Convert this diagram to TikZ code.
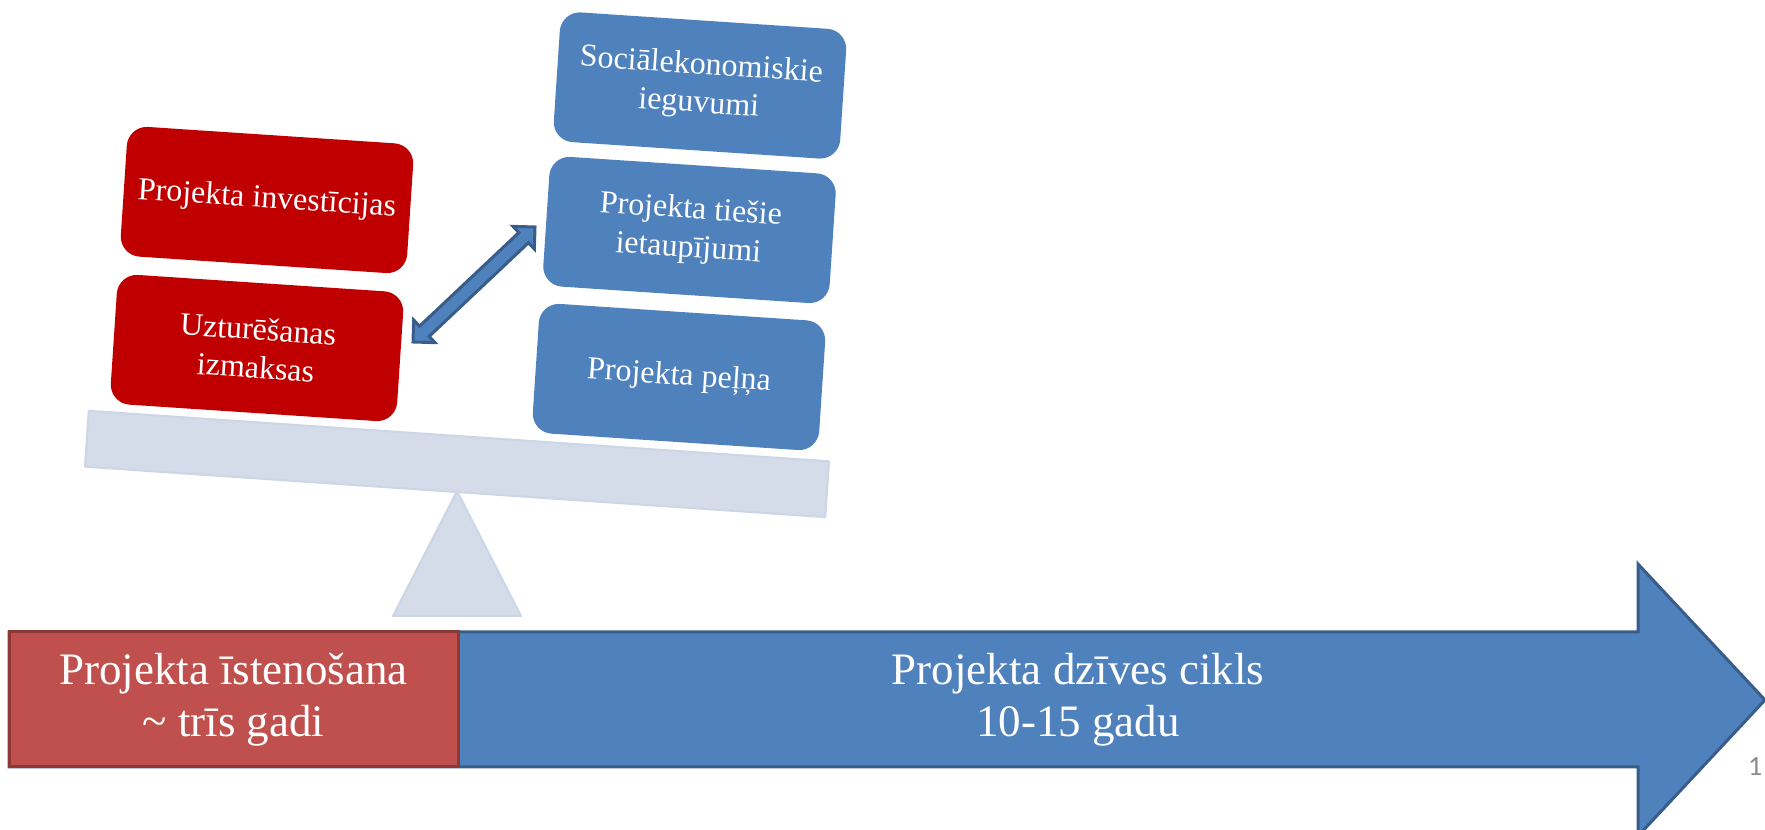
\documentclass[tikz,border=0pt]{standalone}
\usepackage{fontspec}
\setmainfont{Liberation Serif}
\newfontfamily\pagenumfont{Carlito}
\usetikzlibrary{calc}
\definecolor{boxred}{HTML}{C00000}
\definecolor{phasered}{HTML}{C0504D}
\definecolor{phasereddark}{HTML}{8C3836}
\definecolor{accblue}{HTML}{4F81BD}
\definecolor{accbluedark}{HTML}{385D8A}
\definecolor{scalefill}{HTML}{D4DCEA}
\definecolor{scaleline}{HTML}{CDD6E6}
\begin{document}
\begin{tikzpicture}[x=1pt,y=1pt,
  cardbox/.style={rounded corners=20pt, minimum width=287pt, minimum height=130pt,
    rotate=-3.8, text=white, align=center, inner sep=0pt,
    font=\fontsize{32}{38.5}\selectfont},
  redcard/.style={cardbox, fill=boxred},
  bluecard/.style={cardbox, fill=accblue},
  scalepart/.style={fill=scalefill, draw=scaleline, line width=2pt, line join=round},
  dblarrow/.style={fill=accblue, draw=accbluedark, line width=3pt, line join=miter},
  lifearrow/.style={fill=accblue, draw=accbluedark, line width=3pt, line join=miter},
  phasebox/.style={fill=phasered, draw=phasereddark, line width=3pt, minimum width=449pt,
    minimum height=135pt, inner sep=0pt},
  bigtext/.style={text=white, align=center, font=\fontsize{45}{52}\selectfont}
]
\useasboundingbox (0,0) rectangle (1765,830);
\clip (0,0) rectangle (1765,830);

% scale (seesaw)
\node[scalepart, minimum width=742pt, minimum height=56pt, rotate=-3.9, inner sep=0pt] (beam) at (457,366) {};
\draw[scalepart] (457,339) -- (521,214) -- (393,214) -- cycle;

% cards
\node[redcard] (inv) at (267,630) {Projekta investīcijas};
\node[redcard] (uzt) at (257,482) {Uzturēšanas\\izmaksas};
\node[bluecard] (soc) at (700,744.5) {Sociālekonomiskie\\ieguvumi};
\node[bluecard] (tie) at (689.5,600) {Projekta tiešie\\ietaupījumi};
\node[bluecard] (pel) at (679,453) {Projekta peļņa};

% double arrow between uzt and tie
\coordinate (L) at (413,488);
\coordinate (U) at (535,603);
\draw[dblarrow] (L)
  -- ($(L)!15.6pt!(U)!15.6pt!90:(U)$)
  -- ($(L)!15.6pt!(U)!7pt!90:(U)$)
  -- ($(U)!15.6pt!(L)!7pt!-90:(L)$)
  -- ($(U)!15.6pt!(L)!15.6pt!-90:(L)$)
  -- (U)
  -- ($(U)!15.6pt!(L)!15.6pt!90:(L)$)
  -- ($(U)!15.6pt!(L)!7pt!90:(L)$)
  -- ($(L)!15.6pt!(U)!7pt!-90:(U)$)
  -- ($(L)!15.6pt!(U)!15.6pt!-90:(U)$)
  -- cycle;

% life cycle arrow
\draw[lifearrow] (9,63) -- (9,198) -- (1638,198) -- (1638,266) -- (1765,130)
  -- (1638,-6) -- (1638,63) -- cycle;
\node[phasebox, bigtext] (impl) at (233.5,130.5) {Projekta īstenošana\\\textasciitilde{} trīs gadi};
\node[bigtext] (life) at (1078,130.5) {Projekta dzīves cikls\\10-15 gadu};

% page number
\node[anchor=base west, inner sep=0pt, text=black!45, font=\pagenumfont\fontsize{28}{30}\selectfont] (pnum) at (1748,54) {1};
\end{tikzpicture}
\end{document}
